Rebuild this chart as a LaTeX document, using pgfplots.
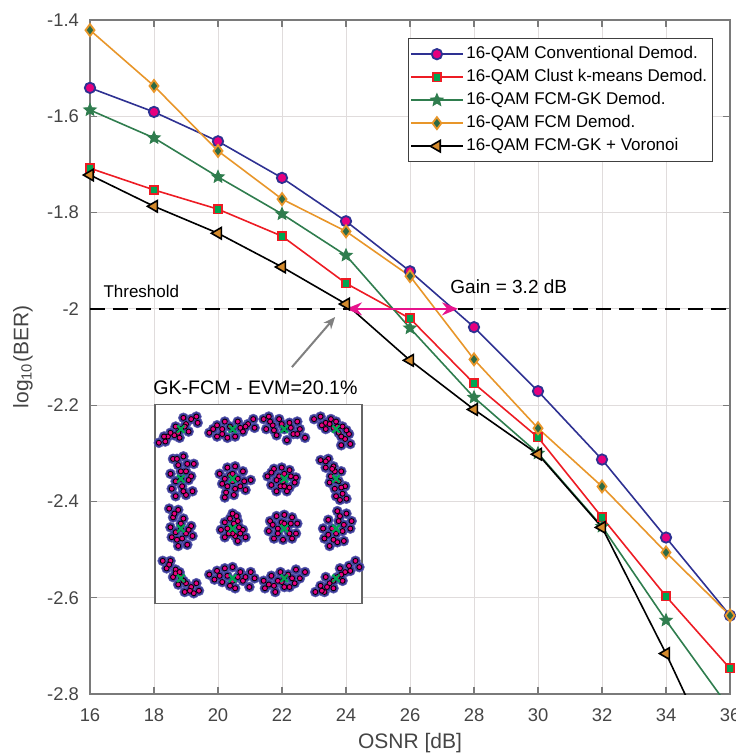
\documentclass[border=0pt]{standalone}
\usepackage{fontspec}
\setmainfont{Liberation Sans}
\usepackage{pgfplots}
\usepackage{pgfplotstable}
\pgfplotsset{compat=1.18}
\usetikzlibrary{arrows.meta}

\definecolor{cBlue}{HTML}{2E3192}
\definecolor{cMag}{HTML}{E6007E}
\definecolor{cRed}{HTML}{ED1C24}
\definecolor{cSq}{HTML}{00A651}
\definecolor{cDG}{HTML}{2F7D4E}
\definecolor{cOr}{HTML}{E8962A}
\definecolor{cDia}{HTML}{2D6A45}
\definecolor{cTri}{HTML}{D48A2C}
\definecolor{gridc}{HTML}{E0DCDC}
\definecolor{axc}{HTML}{7A7A7A}
\definecolor{tickc}{HTML}{454545}
\definecolor{pinkA}{HTML}{E6138C}
\definecolor{cBlob}{HTML}{3A3A9A}

% filled five-point star
\pgfdeclareplotmark{fstar}{%
  \pgfpathmoveto{\pgfpointpolar{90}{\pgfplotmarksize}}%
  \pgfpathlineto{\pgfpointpolar{126}{0.45\pgfplotmarksize}}%
  \pgfpathlineto{\pgfpointpolar{162}{\pgfplotmarksize}}%
  \pgfpathlineto{\pgfpointpolar{198}{0.45\pgfplotmarksize}}%
  \pgfpathlineto{\pgfpointpolar{234}{\pgfplotmarksize}}%
  \pgfpathlineto{\pgfpointpolar{270}{0.45\pgfplotmarksize}}%
  \pgfpathlineto{\pgfpointpolar{306}{\pgfplotmarksize}}%
  \pgfpathlineto{\pgfpointpolar{342}{0.45\pgfplotmarksize}}%
  \pgfpathlineto{\pgfpointpolar{18}{\pgfplotmarksize}}%
  \pgfpathlineto{\pgfpointpolar{54}{0.45\pgfplotmarksize}}%
  \pgfpathclose\pgfusepathqfillstroke}

% OSNR, log10(BER)
\pgfplotstableread{
x   conv    clust   fcmgk   fcm     vor
16  -1.541  -1.708  -1.587  -1.421  -1.722
18  -1.591  -1.753  -1.645  -1.537  -1.787
20  -1.652  -1.793  -1.726  -1.672  -1.843
22  -1.728  -1.849  -1.803  -1.772  -1.913
24  -1.818  -1.947  -1.889  -1.839  -1.990
26  -1.922  -2.020  -2.040  -1.932  -2.107
28  -2.038  -2.155  -2.184  -2.105  -2.209
30  -2.171  -2.267  -2.300  -2.248  -2.302
32  -2.313  -2.433  -2.452  -2.369  -2.454
34  -2.475  -2.597  -2.647  -2.506  -2.716
}\ber

% received 16-QAM symbols of the inset (I, Q)
\pgfplotstableread[row sep=\\]{
x y\\
-3.85 2.45\\ -3.6 2.5\\ -3.5 2.7\\ -3.25 2.75\\ -3.0 3.0\\ -3.2 3.1\\ -2.8 3.2\\
-2.6 3.4\\ -2.4 3.5\\ -2.7 2.9\\ -3.05 2.65\\ -2.35 3.25\\ -2.9 3.45\\
-3.1 2.85\\ -2.85 3.1\\ -3.4 2.85\\ -3.65 2.7\\
-1.9 2.85\\ -1.6 2.7\\ -1.4 3.0\\ -1.2 2.65\\ -1.0 3.0\\ -0.8 3.3\\ -0.6 2.9\\
-0.4 3.2\\ -0.2 3.4\\ -1.3 3.3\\ -0.9 2.7\\ -0.15 3.05\\ -1.6 3.15\\
-1.1 3.1\\ -0.7 3.05\\ -1.4 2.8\\ -0.5 3.1\\ -1.75 3.0\\
0.2 3.4\\ 0.4 3.5\\ 0.55 3.15\\ 0.8 3.4\\ 1.0 3.0\\ 1.2 3.25\\ 1.35 2.8\\
1.6 3.0\\ 1.8 2.65\\ 0.7 2.75\\ 1.1 2.55\\ 1.5 3.3\\ 0.3 3.0\\
0.9 3.2\\ 1.25 3.05\\ 0.6 2.95\\ 1.5 2.8\\ 0.45 3.3\\
2.15 3.4\\ 2.4 3.5\\ 2.6 3.25\\ 2.8 3.4\\ 2.9 3.05\\ 3.1 2.85\\ 3.25 3.1\\
3.35 2.6\\ 3.55 2.4\\ 2.45 3.15\\ 3.0 3.3\\ 3.5 2.8\\ 3.2 2.35\\
2.75 3.2\\ 3.05 3.1\\ 3.2 2.7\\ 2.6 3.0\\ 3.4 2.95\\
-3.3 1.8\\ -2.9 1.9\\ -2.5 1.6\\ -3.4 1.2\\ -3.0 1.3\\ -2.6 1.1\\ -3.35 0.6\\
-2.95 0.7\\ -2.55 0.5\\ -3.2 0.3\\ -2.8 0.35\\ -3.1 1.55\\ -2.7 0.95\\
-3.0 1.0\\ -2.8 1.3\\ -3.2 0.9\\ -2.9 0.5\\ -3.15 1.8\\ -2.75 1.6\\
-1.5 1.2\\ -1.2 1.45\\ -0.9 1.5\\ -0.6 1.3\\ -0.3 0.95\\ -1.4 0.8\\ -1.0 0.9\\
-0.7 0.7\\ -1.25 0.45\\ -0.95 0.35\\ -1.3 0.25\\ -0.5 0.55\\ -1.1 1.15\\
-1.0 1.2\\ -0.8 1.0\\ -1.2 0.7\\ -0.9 0.6\\ -1.3 1.0\\ -0.55 0.9\\
0.35 1.1\\ 0.6 1.4\\ 0.9 1.45\\ 1.2 1.35\\ 1.45 1.05\\ 0.5 0.75\\ 0.85 0.7\\
1.2 0.65\\ 1.4 0.85\\ 0.8 1.1\\ 1.1 0.5\\ 0.7 0.5\\ 1.0 1.2\\
0.95 0.9\\ 0.7 0.95\\ 1.25 1.1\\ 1.0 0.7\\ 0.5 1.25\\
2.4 1.75\\ 2.7 1.8\\ 2.6 1.45\\ 2.9 1.5\\ 3.2 1.3\\ 2.8 1.1\\ 3.1 0.9\\
3.35 0.7\\ 2.95 0.6\\ 3.25 0.4\\ 3.4 0.2\\ 3.0 0.3\\ 2.75 0.85\\
2.95 1.3\\ 3.0 0.95\\ 2.6 1.7\\ 3.2 0.65\\ 2.85 1.4\\ 3.15 0.15\\
-3.45 -0.2\\ -3.1 -0.25\\ -3.3 -0.55\\ -2.9 -0.6\\ -3.4 -0.95\\ -3.0 -1.0\\ -2.6 -0.9\\
-3.35 -1.35\\ -2.95 -1.4\\ -2.55 -1.3\\ -3.1 -1.7\\ -2.75 -1.65\\ -3.2 -1.15\\
-3.0 -0.8\\ -2.8 -1.2\\ -3.15 -1.45\\ -3.25 -0.4\\ -2.7 -1.05\\
-1.0 -0.4\\ -1.3 -0.75\\ -0.8 -0.7\\ -1.45 -1.05\\ -1.05 -1.0\\ -0.6 -1.05\\ -1.3 -1.35\\
-0.9 -1.3\\ -0.5 -1.35\\ -0.8 -1.5\\ -0.75 -0.95\\ -1.2 -1.0\\ -1.0 -1.2\\
-0.95 -0.8\\ -1.15 -1.2\\ -0.7 -1.2\\ -1.1 -0.6\\ -0.85 -0.5\\
0.45 -0.7\\ 0.7 -0.5\\ 1.0 -0.45\\ 1.3 -0.55\\ 1.5 -0.8\\ 0.4 -1.1\\ 0.75 -1.0\\
1.1 -1.0\\ 1.45 -1.2\\ 0.6 -1.4\\ 0.95 -1.45\\ 1.3 -1.4\\ 0.9 -0.75\\
1.0 -0.8\\ 0.75 -1.2\\ 1.2 -1.2\\ 0.55 -0.85\\ 1.25 -0.8\\
3.05 -0.3\\ 3.4 -0.4\\ 3.6 -0.7\\ 2.7 -0.65\\ 3.1 -0.7\\ 2.5 -1.0\\ 2.85 -1.0\\
3.25 -1.1\\ 2.55 -1.4\\ 2.9 -1.45\\ 3.3 -1.5\\ 2.75 -1.7\\ 3.55 -1.0\\
3.0 -1.2\\ 3.15 -0.5\\ 2.7 -1.25\\ 3.3 -0.85\\ 3.05 -1.55\\
-3.7 -2.3\\ -3.4 -2.3\\ -3.55 -2.6\\ -3.2 -2.65\\ -3.0 -2.95\\ -3.3 -2.95\\ -2.8 -3.2\\
-2.6 -3.35\\ -2.4 -3.2\\ -2.5 -3.6\\ -2.85 -3.55\\ -2.3 -3.5\\ -3.1 -3.25\\
-3.2 -2.8\\ -2.9 -3.1\\ -2.65 -3.5\\ -3.45 -2.45\\ -3.05 -2.75\\
-1.9 -2.85\\ -1.6 -2.7\\ -1.3 -2.6\\ -1.0 -2.55\\ -0.7 -2.75\\ -0.3 -2.75\\ -0.15 -3.0\\
-1.7 -3.05\\ -1.4 -3.15\\ -1.0 -3.1\\ -0.6 -3.1\\ -0.35 -3.35\\ -0.9 -3.4\\
-1.2 -2.9\\ -0.8 -2.95\\ -1.5 -2.9\\ -0.5 -2.95\\ -1.1 -3.3\\
0.2 -3.1\\ 0.25 -3.4\\ 0.5 -2.9\\ 0.6 -3.3\\ 0.85 -2.75\\ 0.9 -3.15\\ 1.15 -2.85\\
1.2 -3.35\\ 1.45 -2.65\\ 1.6 -3.0\\ 1.8 -2.75\\ 1.4 -3.2\\ 0.65 -3.55\\
1.0 -3.0\\ 0.75 -3.1\\ 1.3 -3.0\\ 0.4 -3.25\\ 1.0 -3.35\\
2.2 -3.55\\ 2.4 -3.3\\ 2.55 -3.55\\ 2.75 -3.2\\ 2.9 -3.4\\ 3.05 -2.95\\ 3.25 -3.1\\
3.35 -2.75\\ 3.5 -2.5\\ 3.75 -2.3\\ 3.9 -2.55\\ 3.15 -2.6\\ 2.6 -2.95\\
2.9 -3.1\\ 3.2 -2.85\\ 2.65 -3.35\\ 3.55 -2.7\\ 2.45 -3.5\\
}\iq

\begin{document}
\begin{tikzpicture}[font=\fontsize{9.2}{11}\selectfont]
\begin{axis}[
    scale only axis,
    width=320pt, height=337pt,
    xmin=16, xmax=36,
    ymin=-2.8, ymax=-1.4,
    xtick={16,18,...,36},
    ytick={-2.8,-2.6,-2.4,-2.2,-2,-1.8,-1.6,-1.4},
    yticklabel style={/pgf/number format/fixed, /pgf/number format/precision=1, xshift=-2pt},
    xticklabel style={yshift=-4pt},
    /pgf/number format/assume math mode=true,
    ticklabel style={text=tickc},
    grid=major,
    major grid style={draw=gridc, line width=0.5pt},
    axis line style={draw=axc, line width=0.6pt},
    tick align=inside,
    major tick length=3.5pt,
    tick style={draw=axc, line width=0.6pt},
    xlabel={OSNR [dB]},
    ylabel={log\textsubscript{10}(BER)},
    label style={text=tickc, font=\fontsize{10.5}{12}\selectfont},
    xlabel style={at={(rel axis cs:0.5,-0.0727)}, anchor=center},
    ylabel style={at={(rel axis cs:-0.1047,0.5)}, anchor=center},
    legend style={at={(rel axis cs:0.973,0.973)}, anchor=north east,
        draw=black!75, line width=0.5pt, font=\fontsize{8.5}{10}\selectfont,
        inner xsep=1pt, inner ysep=2pt, row sep=0pt,
        nodes={inner xsep=1.5pt, inner ysep=1.6pt, text height=6.4pt, text depth=1.9pt}},
    legend cell align=left,
    legend image code/.code={\draw[mark repeat=2,mark phase=2] plot coordinates {(0cm,0cm) (0.45cm,0cm) (0.9cm,0cm)};},
]
\coordinate (bl) at (rel axis cs:0,0);
\coordinate (tr) at (rel axis cs:1,1);
\coordinate (insTL) at (axis cs:18.03,-2.198);

\addplot[black, line width=1pt, dash pattern=on 7.5pt off 4pt, forget plot] coordinates {(16,-2) (36,-2)};

\addplot[cBlue, line width=0.8pt, mark=*, mark size=2.6pt,
    mark options={fill=cMag, draw=cBlue, line width=0.9pt}]
    table[x=x, y=conv] {\ber};
\addlegendentry{16-QAM Conventional Demod.}
\addplot[cRed, line width=0.8pt, mark=square*, mark size=2.1pt,
    mark options={fill=cSq, draw=cRed, line width=0.8pt}]
    table[x=x, y=clust] {\ber};
\addlegendentry{16-QAM Clust k-means Demod.}
\addplot[cDG, line width=0.8pt, mark=fstar, mark size=3.3pt,
    mark options={fill=cDG, draw=cDG, line width=0.4pt}]
    table[x=x, y=fcmgk] {\ber};
\addlegendentry{16-QAM FCM-GK Demod.}
\addplot[cOr, line width=0.8pt, mark=diamond*, mark size=3pt,
    mark options={fill=cDia, draw=cOr, line width=0.9pt}]
    table[x=x, y=fcm] {\ber};
\addlegendentry{16-QAM FCM Demod.}
\addplot[black, line width=0.8pt, mark=triangle*, mark size=3.3pt,
    mark options={rotate=90, fill=cTri, draw=black, line width=0.8pt}]
    table[x=x, y=vor] {\ber};
\addlegendentry{16-QAM FCM-GK + Voronoi}

% last segments to OSNR = 36 dB
\addplot[cBlue, line width=0.8pt, mark=*, mark size=2.6pt, mark indices={2},
    mark options={fill=cMag, draw=cBlue, line width=0.9pt}, forget plot]
    coordinates {(34,-2.475) (36,-2.637)};
\addplot[cRed, line width=0.8pt, mark=square*, mark size=2.1pt, mark indices={2},
    mark options={fill=cSq, draw=cRed, line width=0.8pt}, forget plot]
    coordinates {(34,-2.597) (36,-2.747)};
\addplot[cDG, line width=0.8pt, forget plot] coordinates {(34,-2.647) (36,-2.831)};
\addplot[cOr, line width=0.8pt, mark=diamond*, mark size=3pt, mark indices={2},
    mark options={fill=cDia, draw=cOr, line width=0.9pt}, forget plot]
    coordinates {(34,-2.506) (36,-2.637)};
\addplot[black, line width=0.8pt, forget plot] coordinates {(34,-2.716) (36,-3.0)};

\draw[pinkA, line width=1pt, {Stealth[length=8pt,width=6.5pt]}-{Stealth[length=8pt,width=6.5pt]}]
    (axis cs:24,-2) -- (axis cs:27.5,-2);
\draw[gray, line width=1pt, -{Stealth[length=6pt,width=5pt]}]
    (axis cs:22.31,-2.121) -- (axis cs:23.66,-2.017);

\node[anchor=west, inner sep=0pt, font=\fontsize{8.5}{10}\selectfont] at (axis cs:16.41,-1.963) {Threshold};
\node[anchor=west, inner sep=0pt, font=\fontsize{9.5}{11}\selectfont] at (axis cs:27.25,-1.955) {Gain = 3.2 dB};
\node[inner sep=0pt, font=\fontsize{9.8}{11}\selectfont] at (axis cs:21.17,-2.163) {GK-FCM - EVM=20.1\%};
\end{axis}

% constellation inset
\begin{axis}[
    at={(insTL)}, anchor=north west,
    scale only axis, width=103.5pt, height=99.5pt,
    xmin=-4, xmax=4, ymin=-4, ymax=4,
    ticks=none,
    axis line style={draw=black!60, line width=0.6pt},
    axis background/.style={fill=white},
]
\addplot[only marks, mark=*, mark size=2.5pt,
    mark options={fill=cBlob, draw=cBlob!80, line width=0.3pt}] table {\iq};
\addplot[only marks, mark=*, mark size=1.25pt,
    mark options={fill=cMag, draw=none}] table {\iq};
\addplot[only marks, mark=x, mark size=2.6pt, mark options={draw=cSq, line width=1.1pt}] coordinates {
 (-3,3) (-1,3) (1,3) (3,3) (-3,1) (-1,1) (1,1) (3,1)
 (-3,-1) (-1,-1) (1,-1) (3,-1) (-3,-3) (-1,-3) (1,-3) (3,-3)
};
\end{axis}

\pgfresetboundingbox
\path ([xshift=-45pt,yshift=-29.5pt]bl) rectangle ([xshift=3pt,yshift=10pt]tr);
\end{tikzpicture}
\end{document}
